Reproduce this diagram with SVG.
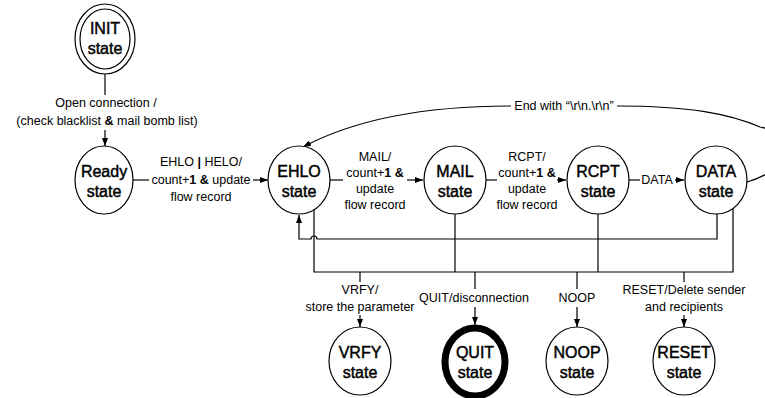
<svg xmlns="http://www.w3.org/2000/svg" width="765" height="398" viewBox="0 0 765 398">
  <style>
    .node { fill: #ffffff; stroke: #000000; stroke-width: 1.2; }
    .final { fill: #ffffff; stroke: #000000; stroke-width: 7; }
    .name { font-family: "Liberation Sans", Arial, sans-serif; font-size: 16px; text-anchor: middle; fill: #000000; stroke: #000000; stroke-width: 0.45; }
    .lbl { font-family: "Liberation Sans", Arial, sans-serif; font-size: 12.5px; text-anchor: middle; fill: #000000; }
    .b { font-weight: bold; }
    .wire { fill: none; stroke: #000000; stroke-width: 1.2; }
    .arrow { fill: none; stroke: #000000; stroke-width: 1.2; marker-end: url(#head); }
  </style>
  <defs>
    <marker id="head" viewBox="0 0 8 6" refX="8" refY="3" markerWidth="8" markerHeight="6" markerUnits="userSpaceOnUse" orient="auto">
      <path d="M0,0 L8,3 L0,6 Z" fill="#000000"/>
    </marker>
  </defs>

  <!-- connectors -->
  <g id="connectors">
    <!-- INIT to Ready -->
    <path class="wire" d="M105 74 V95"/>
    <path class="arrow" d="M105 130 V146"/>
    <!-- Ready to EHLO -->
    <path class="wire" d="M133 180 H149"/>
    <path class="arrow" d="M253 180 H268"/>
    <!-- EHLO to MAIL -->
    <path class="wire" d="M330 180 H343"/>
    <path class="arrow" d="M407 180 H423"/>
    <!-- MAIL to RCPT -->
    <path class="wire" d="M486 180 H497"/>
    <path class="arrow" d="M557 180 H566"/>
    <!-- RCPT to DATA -->
    <path class="wire" d="M629 180 H640"/>
    <path class="arrow" d="M675 180 H684"/>
    <!-- end of data back to EHLO -->
    <path class="wire" d="M747 182 C790 170 800 135 760 127 C730 114 690 106 617 106"/>
    <path class="arrow" d="M511 106 Q380 106 303 147"/>
    <!-- return bus into EHLO, hopping over the lower bus riser -->
    <path class="arrow" d="M717 214 V239 H317 A3 3 0 0 0 311 239 H299 V215"/>
    <!-- lower bus -->
    <path class="wire" d="M314 210 V272 H733 V208"/>
    <path class="wire" d="M455 214 V272"/>
    <path class="wire" d="M598 214 V272"/>
    <!-- drops to the side states -->
    <path class="wire" d="M360 272 V282"/>
    <path class="arrow" d="M360 315 V327"/>
    <path class="wire" d="M475 272 V289"/>
    <path class="arrow" d="M475 307 V325"/>
    <path class="wire" d="M577 272 V289"/>
    <path class="arrow" d="M577 307 V327"/>
    <path class="wire" d="M684 272 V282"/>
    <path class="arrow" d="M684 315 V327"/>
  </g>

  <!-- transition labels -->
  <g id="labels">
    <text class="lbl" x="106" y="107">Open connection /</text>
    <text class="lbl" x="107" y="125">(check blacklist <tspan class="b">&amp;</tspan> mail bomb list)</text>
    <text class="lbl" x="201" y="166">EHLO <tspan class="b">|</tspan> HELO/</text>
    <text class="lbl" x="201" y="184">count+<tspan class="b">1</tspan> <tspan class="b">&amp;</tspan> update</text>
    <text class="lbl" x="201" y="201">flow record</text>
    <text class="lbl" x="375" y="161">MAIL/</text>
    <text class="lbl" x="375" y="177">count+<tspan class="b">1</tspan> <tspan class="b">&amp;</tspan></text>
    <text class="lbl" x="375" y="193">update</text>
    <text class="lbl" x="375" y="209">flow record</text>
    <text class="lbl" x="527" y="161">RCPT/</text>
    <text class="lbl" x="527" y="177">count+<tspan class="b">1</tspan> <tspan class="b">&amp;</tspan></text>
    <text class="lbl" x="527" y="193">update</text>
    <text class="lbl" x="527" y="209">flow record</text>
    <text class="lbl" x="657" y="184">DATA</text>
    <text class="lbl" x="564" y="110">End with “\r\n.\r\n”</text>
    <text class="lbl" x="360" y="294">VRFY/</text>
    <text class="lbl" x="360" y="311">store the parameter</text>
    <text class="lbl" x="474" y="302">QUIT/disconnection</text>
    <text class="lbl" x="577" y="302">NOOP</text>
    <text class="lbl" x="684" y="294">RESET/Delete sender</text>
    <text class="lbl" x="684" y="311">and recipients</text>
  </g>

  <!-- states -->
  <g id="init">
    <ellipse class="node" cx="105" cy="39" rx="30" ry="35"/>
    <ellipse class="node" cx="105" cy="39" rx="25" ry="30"/>
    <text class="name" x="105" y="34">INIT</text>
    <text class="name" x="105" y="54">state</text>
  </g>
  <g id="ready">
    <ellipse class="node" cx="104" cy="180" rx="29" ry="34"/>
    <text class="name" x="104" y="177">Ready</text>
    <text class="name" x="104" y="197">state</text>
  </g>
  <g id="ehlo">
    <ellipse class="node" cx="299" cy="180" rx="31" ry="34"/>
    <text class="name" x="299" y="177">EHLO</text>
    <text class="name" x="299" y="197">state</text>
  </g>
  <g id="mail">
    <ellipse class="node" cx="455" cy="180" rx="31" ry="34"/>
    <text class="name" x="455" y="177">MAIL</text>
    <text class="name" x="455" y="197">state</text>
  </g>
  <g id="rcpt">
    <ellipse class="node" cx="598" cy="180" rx="31" ry="34"/>
    <text class="name" x="598" y="177">RCPT</text>
    <text class="name" x="598" y="197">state</text>
  </g>
  <g id="data">
    <ellipse class="node" cx="716" cy="180" rx="31" ry="34"/>
    <text class="name" x="716" y="177">DATA</text>
    <text class="name" x="716" y="197">state</text>
  </g>
  <g id="vrfy">
    <ellipse class="node" cx="360" cy="361" rx="31" ry="34"/>
    <text class="name" x="360" y="358">VRFY</text>
    <text class="name" x="360" y="378">state</text>
  </g>
  <g id="quit">
    <ellipse class="final" cx="475" cy="362" rx="30" ry="34"/>
    <text class="name" x="475" y="358">QUIT</text>
    <text class="name" x="475" y="378">state</text>
  </g>
  <g id="noop">
    <ellipse class="node" cx="577" cy="361" rx="31" ry="34"/>
    <text class="name" x="577" y="358">NOOP</text>
    <text class="name" x="577" y="378">state</text>
  </g>
  <g id="reset">
    <ellipse class="node" cx="684" cy="361" rx="31" ry="34"/>
    <text class="name" x="684" y="358">RESET</text>
    <text class="name" x="684" y="378">state</text>
  </g>
</svg>
